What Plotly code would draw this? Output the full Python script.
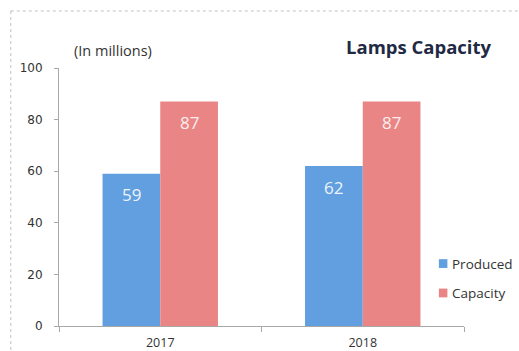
import plotly.graph_objects as go

years = ["2017", "2018"]
produced = [59, 62]
capacity = [87, 87]
y_ticks = [0, 20, 40, 60, 80, 100]

BLUE = "#619fe0"
RED = "#ea8585"
FONT = "Open Sans, sans-serif"

fig = go.Figure()
fig.add_trace(go.Bar(x=years, y=produced, name="Produced",
                     marker=dict(color=BLUE, line=dict(width=0))))
fig.add_trace(go.Bar(x=years, y=capacity, name="Capacity",
                     marker=dict(color=RED, line=dict(width=0))))

annotations = []
# data labels, inside the bar near its top (x given as category index)
for series, shift, col in ((produced, -29, "#eef4fb"), (capacity, 29, "#fbeeee")):
    for i, v in enumerate(series):
        annotations.append(dict(x=i, y=v, xref="x", yref="y", text=str(v),
                                showarrow=False, xshift=shift, yshift=-21,
                                xanchor="center", yanchor="middle",
                                font=dict(size=17, color=col, family=FONT)))

annotations += [
    dict(text="(In millions)", xref="paper", yref="paper", x=0.133, y=1.068,
         xanchor="center", yanchor="middle", showarrow=False,
         font=dict(size=14.5, color="#333333", family=FONT)),
    dict(text="<b>Lamps Capacity</b>", xref="paper", yref="paper", x=0.889, y=1.082,
         xanchor="center", yanchor="middle", showarrow=False,
         font=dict(size=18.5, color="#1f2a44", family=FONT)),
    # legend labels
    dict(text="Produced", xref="paper", yref="paper", x=0.965, y=0.242,
         xanchor="left", yanchor="middle", showarrow=False,
         font=dict(size=13.5, color="#333333", family=FONT)),
    dict(text="Capacity", xref="paper", yref="paper", x=0.965, y=0.128,
         xanchor="left", yanchor="middle", showarrow=False,
         font=dict(size=13.5, color="#333333", family=FONT)),
]

shapes = [
    dict(type="line", xref="paper", yref="paper", x0=-0.119, x1=1.2, y0=1.221, y1=1.221,
         line=dict(color="#c0c0c0", width=1, dash="dot")),
    dict(type="line", xref="paper", yref="paper", x0=-0.119, x1=-0.119, y0=1.221, y1=-0.2,
         line=dict(color="#c0c0c0", width=1, dash="dot")),
    # legend swatches
    dict(type="rect", xref="paper", yref="paper", x0=0.938, x1=0.959, y0=0.225, y1=0.259,
         fillcolor=BLUE, line=dict(width=0)),
    dict(type="rect", xref="paper", yref="paper", x0=0.938, x1=0.959, y0=0.111, y1=0.145,
         fillcolor=RED, line=dict(width=0)),
]

fig.update_layout(
    width=519, height=351,
    margin=dict(l=59, r=55, t=68, b=25),
    paper_bgcolor="white", plot_bgcolor="white",
    barmode="group", bargap=0.43, bargroupgap=0,
    font=dict(family=FONT, color="#333333", size=11),
    showlegend=False,
    xaxis=dict(type="category", range=[-0.5, len(years) - 0.5],
               showline=True, linecolor="#a8a8a8", linewidth=1,
               ticks="outside", tickson="boundaries", ticklen=5, tickcolor="#a8a8a8",
               tickangle=0, automargin=False, ticklabelstandoff=5,
               tickfont=dict(size=12.5, color="#333333", family=FONT), showgrid=False),
    yaxis=dict(range=[0, 100], tickvals=y_ticks, showline=True, linecolor="#a8a8a8",
               linewidth=1, ticks="outside", ticklen=4, tickcolor="#a8a8a8",
               ticklabelstandoff=9, automargin=False,
               tickfont=dict(size=12, color="#333333", family="DejaVu Sans"),
               showgrid=False, zeroline=False),
    annotations=annotations,
    shapes=shapes,
)

fig.write_html("out.html")
